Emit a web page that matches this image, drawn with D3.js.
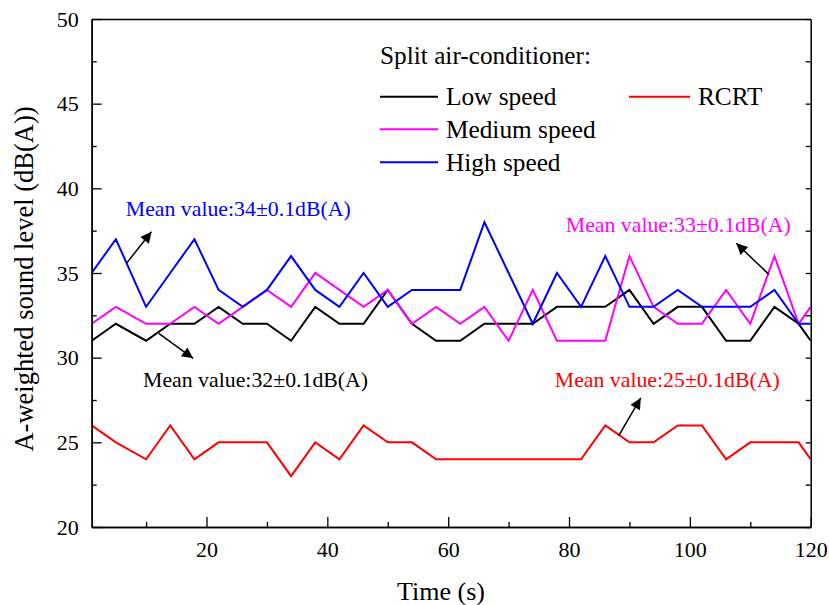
<!DOCTYPE html>
<html>
<head>
<meta charset="utf-8">
<script src="https://cdn.jsdelivr.net/npm/d3@7"></script>
<style>
  html, body { margin: 0; padding: 0; background: #fff; }
  svg { display: block; }
  text { font-family: "Liberation Serif", "Times New Roman", serif; }
</style>
</head>
<body>
<svg id="chart" width="829" height="605"></svg>
<script>
// ---- data ----
const timeS = [1,5,10,14,18,22,26,30,34,38,42,46,50,54,58,62,66,70,74,78,82,86,90,94,98,102,106,110,114,118,120];
const lowSpeed    = [31,32,31,32,32,33,32,32,31,33,32,32,34,32,31,31,32,32,32,33,33,33,34,32,33,33,31,31,33,32,31];
const mediumSpeed = [32,33,32,32,33,32,33,34,33,35,34,33,34,32,33,32,33,31,34,31,31,31,36,33,32,32,34,32,36,32,33];
const highSpeed   = [35,37,33,35,37,34,33,34,36,34,33,35,33,34,34,34,38,35,32,35,33,36,33,33,34,33,33,33,34,32,32];
const rcrt        = [26,25,24,26,24,25,25,25,23,25,24,26,25,25,24,24,24,24,24,24,24,26,25,25,26,26,24,25,25,25,24];
const xTickValues = [20,40,60,80,100,120];
const yTickValues = [20,25,30,35,40,45,50];
const seriesNames = ["Low speed","Medium speed","High speed","RCRT"];
const meanLabels  = ["Mean value:34\u00B10.1dB(A)","Mean value:32\u00B10.1dB(A)","Mean value:33\u00B10.1dB(A)","Mean value:25\u00B10.1dB(A)"];

// ---- layout ----
const svg = d3.select("#chart");
const pLeft = 91.7, pRight = 810.7, pTop = 19, pBottom = 527;
const x = d3.scaleLinear().domain([1, 120]).range([pLeft, pRight]);
const y = d3.scaleLinear().domain([20, 50]).range([pBottom, pTop]);

const colors = { "Low speed": "#000000", "Medium speed": "#ff00ff", "High speed": "#0000ff", "RCRT": "#ff0000" };
const seriesData = {
  "Low speed": lowSpeed, "Medium speed": mediumSpeed, "High speed": highSpeed, "RCRT": rcrt
};

// clip
svg.append("defs").append("clipPath").attr("id", "clip")
  .append("rect").attr("x", pLeft).attr("y", pTop).attr("width", pRight - pLeft).attr("height", pBottom - pTop);

// lines
const line = d3.line().x((d, i) => x(timeS[i])).y(d => y(d));
const lineOrder = ["RCRT", "Low speed", "Medium speed", "High speed"];
const gLines = svg.append("g").attr("clip-path", "url(#clip)");
lineOrder.forEach(name => {
  gLines.append("path")
    .datum(seriesData[name])
    .attr("d", line)
    .attr("fill", "none")
    .attr("stroke", colors[name])
    .attr("stroke-width", 2)
    .attr("stroke-linejoin", "miter");
});

// axes (ticks inward)
const axisColor = "#000";
const xAxis = d3.axisBottom(x).tickValues(xTickValues).tickSizeInner(-10).tickSizeOuter(0).tickPadding(14).tickFormat(d3.format("d"));
svg.append("g").attr("transform", `translate(0,${pBottom})`).call(xAxis);
const xMinor = d3.axisBottom(x).tickValues([10,30,50,70,90,110]).tickSizeInner(-5).tickSizeOuter(0).tickFormat("");
svg.append("g").attr("transform", `translate(0,${pBottom})`).call(xMinor);
const yAxis = d3.axisLeft(y).tickValues(yTickValues).tickSizeInner(-10).tickSizeOuter(0).tickPadding(13);
svg.append("g").attr("transform", `translate(${pLeft},0)`).call(yAxis);
const yMinor = d3.axisLeft(y).tickValues([22.5,27.5,32.5,37.5,42.5,47.5]).tickSizeInner(-5).tickSizeOuter(0).tickFormat("");
svg.append("g").attr("transform", `translate(${pLeft},0)`).call(yMinor);
const yRight = d3.axisRight(y).tickValues([20,22.5,25,27.5,30,32.5,35,37.5,40,42.5,45,47.5,50]).tickSizeInner(-5).tickSizeOuter(0).tickFormat("");
svg.append("g").attr("transform", `translate(${pRight},0)`).call(yRight);
const xTop = d3.axisTop(x).tickValues([]).tickSizeOuter(0);
svg.append("g").attr("transform", `translate(0,${pTop})`).call(xTop);

svg.selectAll(".domain").attr("stroke", axisColor).attr("stroke-width", 1.5);
svg.selectAll(".tick line").attr("stroke", axisColor).attr("stroke-width", 1.3);
svg.selectAll(".tick text")
  .attr("font-family", "Liberation Serif, Times New Roman, serif")
  .attr("font-size", 22).attr("fill", "#000");

// axis titles
svg.append("text")
  .attr("x", 441).attr("y", 600)
  .attr("text-anchor", "middle").attr("font-size", 26)
  .text("Time (s)");
svg.append("text")
  .attr("transform", `translate(33,${(pTop + pBottom) / 2 + 6}) rotate(-90)`)
  .attr("text-anchor", "middle").attr("font-size", 26.5)
  .text("A-weighted sound level (dB(A))");

// legend
const lg = svg.append("g");
lg.append("text").attr("x", 380).attr("y", 64).attr("font-size", 25.3).text("Split air-conditioner:");
const legendItems = [
  { name: "Low speed",    x1: 380, x2: 438, y: 96.7 },
  { name: "Medium speed", x1: 380, x2: 438, y: 129.3 },
  { name: "High speed",   x1: 380, x2: 438, y: 162.3 },
  { name: "RCRT",         x1: 629, x2: 690, y: 96.7 }
];
legendItems.forEach(it => {
  lg.append("line").attr("x1", it.x1).attr("x2", it.x2).attr("y1", it.y).attr("y2", it.y)
    .attr("stroke", colors[it.name]).attr("stroke-width", 2);
  lg.append("text").attr("x", it.x2 + 8).attr("y", it.y + 8.5).attr("font-size", 25.3).text(it.name);
});

// annotations (positions in data units)
const annotations = [
  { label: meanLabels[0], color: colors["High speed"],   tx: 6.64,  ty: 38.35, from: [6.75, 35.57],  to: [10.89, 37.44] },
  { label: meanLabels[1], color: colors["Low speed"],    tx: 9.5,   ty: 28.29, from: [12.1, 31.44],  to: [17.78, 29.96] },
  { label: meanLabels[2], color: colors["Medium speed"], tx: 79.46, ty: 37.44, from: [113.06, 34.92], to: [107.7, 36.75] },
  { label: meanLabels[3], color: colors["RCRT"],         tx: 77.64, ty: 28.25, from: [88.23, 25.39], to: [91.87, 27.62] }
];
svg.append("defs").append("marker")
  .attr("id", "arrow").attr("viewBox", "0 0 10 10").attr("refX", 10).attr("refY", 5)
  .attr("markerWidth", 15).attr("markerHeight", 11).attr("markerUnits", "userSpaceOnUse")
  .attr("orient", "auto")
  .append("path").attr("d", "M0,0 L10,5 L0,10 Z").attr("fill", "#000");
annotations.forEach(a => {
  svg.append("text").attr("x", x(a.tx)).attr("y", y(a.ty)).attr("font-size", 21.8)
    .attr("fill", a.color).text(a.label);
  svg.append("line")
    .attr("x1", x(a.from[0])).attr("y1", y(a.from[1]))
    .attr("x2", x(a.to[0])).attr("y2", y(a.to[1]))
    .attr("stroke", "#000").attr("stroke-width", 1.5)
    .attr("marker-end", "url(#arrow)");
});
</script>
</body>
</html>
